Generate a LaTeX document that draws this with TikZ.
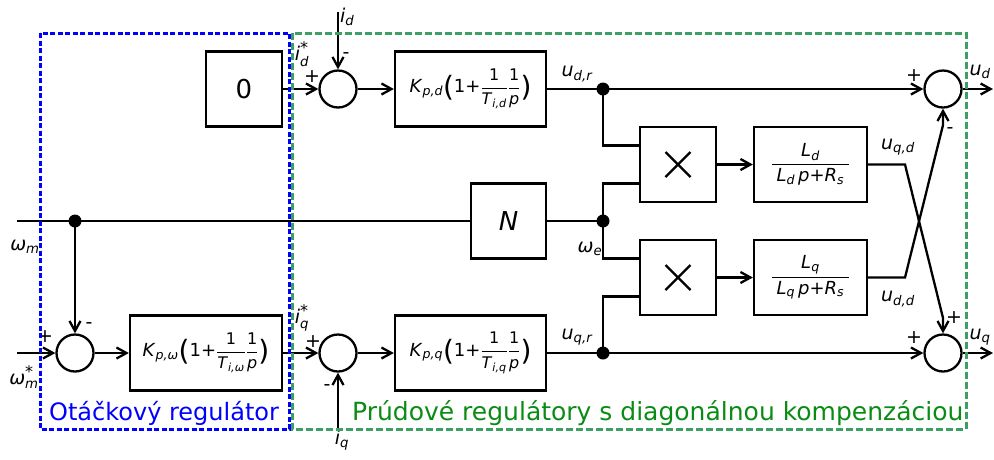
\RequirePackage{fix-cm}
\documentclass[tikz,border=0pt]{standalone}
\usepackage{amsmath}
\usepackage{fontspec}
\setmainfont{DejaVu Sans}
\usetikzlibrary{arrows.meta,calc}
\definecolor{gframe}{RGB}{60,160,100}
\definecolor{gtext}{RGB}{10,140,20}
\newcommand\fs[1]{\fontsize{#1}{#1}\selectfont}
\newcommand\sv[2]{\textit{#1}\ensuremath{_{\text{\itshape #2}}}}
\newcommand\svs[2]{\textit{#1}\ensuremath{^{\hbox{\fs{16}*}}_{\text{\itshape #2}}}}
\newcommand\fr[2]{\ensuremath{\genfrac{}{}{1pt}{0}{\hbox{#1}}{\hbox{#2}}}}
\newcommand\bpar[1]{\raisebox{-4pt}{\fs{28}#1}}
\newcommand\pid[2]{\sv{K}{p,#1}\bpar{(}1+\fr{\fs{16}1}{\fs{16}\sv{T}{i,#2}}\fr{\fs{16}1}{\fs{16}\textit{p}}\bpar{)}}
\begin{document}
\begin{tikzpicture}[x=1pt,y=-1pt,
  line width=2.3pt,
  blk/.style={draw,rectangle,inner sep=0pt,minimum height=75pt},
  sumc/.style={draw,circle,inner sep=0pt,minimum size=37pt},
  dot/.style={fill,circle,inner sep=0pt,minimum size=13pt},
  arr/.style={-{Straight Barb[length=10pt,width=11pt]}},
  lbl/.style={inner sep=0pt,font=\fs{19}},
  sgn/.style={inner sep=0pt,font=\fs{19}},
]
\useasboundingbox (0,0) rectangle (994,459);

% blocks
\node[blk,minimum width=76pt,font=\fs{26}] (zero) at (244,89) {0};
\node[sumc] (s1) at (338,89) {};
\node[blk,minimum width=151pt,font=\fs{18}] (kpd) at (470.5,89) {\pid{d}{d}};
\node[dot] (jd) at (603,89) {};
\node[blk,minimum width=76pt] (m1) at (678,164.5) {};
\node[blk,minimum width=113pt,font=\fs{18}] (ld) at (810.5,164.5) {\fr{\sv{L}{d}}{\kern5pt\sv{L}{d}\,\textit{p}+\sv{R}{s}\kern5pt}};
\node[sumc] (sd) at (943,89) {};
\node[dot] (wm) at (75,221) {};
\node[blk,minimum width=75pt,font=\fs{26}\itshape] (nn) at (508.5,221) {N};
\node[dot] (je) at (603,221) {};
\node[blk,minimum width=76pt] (m2) at (678,277.5) {};
\node[blk,minimum width=113pt,font=\fs{18}] (lq) at (810.5,277.5) {\fr{\sv{L}{q}}{\kern5pt\sv{L}{q}\,\textit{p}+\sv{R}{s}\kern5pt}};
\node[sumc] (sw) at (75,353) {};
\node[blk,minimum width=152pt,font=\fs{18}] (kpw) at (206,353) {\pid{ω}{ω}};
\node[sumc] (sq) at (338,353) {};
\node[blk,minimum width=151pt,font=\fs{18}] (kpq) at (470.5,353) {\pid{q}{q}};
\node[dot] (jq) at (603,353) {};
\node[sumc] (sq2) at (943,353) {};

% multiplication signs
\draw ($(m1)+(-12.5,-12.5)$) -- ($(m1)+(12.5,12.5)$) ($(m1)+(-12.5,12.5)$) -- ($(m1)+(12.5,-12.5)$);
\draw ($(m2)+(-12.5,-12.5)$) -- ($(m2)+(12.5,12.5)$) ($(m2)+(-12.5,12.5)$) -- ($(m2)+(12.5,-12.5)$);

% free ends
\coordinate (idin) at (338,12);
\coordinate (wmin) at (17,221);
\coordinate (wsin) at (17,353);
\coordinate (iqin) at (338,431);
\coordinate (udout) at (993,89);
\coordinate (uqout) at (993,353);
\coordinate (c1) at (905,164.5);
\coordinate (c1b) at (943,318);
\coordinate (c2) at (905,277.5);
\coordinate (c2b) at (943,125);

% connectors
\draw[arr] (zero.east) -- (s1.west);
\draw[arr] (idin) -- (s1.north);
\draw[arr] (s1.east) -- (kpd.west);
\draw (kpd.east) -- (jd.center);
\draw[arr] (jd.center) -- (sd.west);
\draw (jd.center) |- ([yshift=19pt]m1.west);
\draw (je.center) |- ([yshift=-19pt]m1.west);
\draw (je.center) |- ([yshift=19pt]m2.west);
\draw (jq.center) |- ([yshift=-19pt]m2.west);
\draw[arr] (m1.east) -- (ld.west);
\draw[arr] (m2.east) -- (lq.west);
\draw[arr] (ld.east) -- (c1) -- (c1b) -- (sq2.north);
\draw[arr] (lq.east) -- (c2) -- (c2b) -- (sd.south);
\draw[arr] (sd.east) -- (udout);
\draw (wmin) -- (wm.center) -- (nn.west);
\draw (nn.east) -- (je.center);
\draw[arr] (wm.center) -- (sw.north);
\draw[arr] (wsin) -- (sw.west);
\draw[arr] (sw.east) -- (kpw.west);
\draw[arr] (kpw.east) -- (sq.west);
\draw[arr] (sq.east) -- (kpq.west);
\draw (kpq.east) -- (jq.center);
\draw[arr] (jq.center) -- (sq2.west);
\draw[arr] (iqin) -- (sq.south);
\draw[arr] (sq2.east) -- (uqout);

% labels
\node[lbl,anchor=west] (lid) at (339,17) {\sv{i}{d}};
\node[sgn] (ms1) at (346,56) {-};
\node[lbl] (lids) at (302,54) {\svs{i}{d}};
\node[sgn] (ps1) at (312,77) {+};
\node[lbl] (ludr) at (577,74) {\sv{u}{d,r}};
\node[sgn] (psd) at (914,76) {+};
\node[lbl] (lud) at (980,72) {\sv{u}{d}};
\node[sgn] (msd) at (950,131) {-};
\node[lbl] (luqd) at (898,147) {\sv{u}{q,d}};
\node[lbl] (lwm) at (25,247) {\sv{ω}{m}};
\node[lbl] (lwe) at (590,249) {\sv{ω}{e}};
\node[lbl] (ludd) at (898,299) {\sv{u}{d,d}};
\node[sgn] (psq2a) at (954,318) {+};
\node[sgn] (psq2b) at (914,338) {+};
\node[lbl] (luq) at (980,337) {\sv{u}{q}};
\node[lbl] (luqr) at (577,337) {\sv{u}{q,r}};
\node[lbl] (liqs) at (302,318) {\svs{i}{q}};
\node[sgn] (psq) at (313,342) {+};
\node[sgn] (msq) at (327,388) {-};
\node[lbl] (liq) at (342,440) {\sv{i}{q}};
\node[lbl] (lwms) at (24,377) {\svs{ω}{m}};
\node[sgn] (psw) at (45,337) {+};
\node[sgn] (msw) at (89,326) {-};

% frames
\draw[blue, line width=3pt, dash pattern=on 5pt off 2.5pt] (40,33) rectangle (289,429);
\draw[gframe, line width=3pt, dash pattern=on 7pt off 3pt] (292,33) rectangle (966,429);
\node[anchor=base west,inner sep=0pt,font=\fs{24},text=blue] (tb) at (48,420) {Otáčkový regulátor};
\node[anchor=base west,inner sep=0pt,font=\fs{25},text=gtext] (tg) at (351,420) {Prúdové regulátory s diagonálnou kompenzáciou};
\end{tikzpicture}
\end{document}
